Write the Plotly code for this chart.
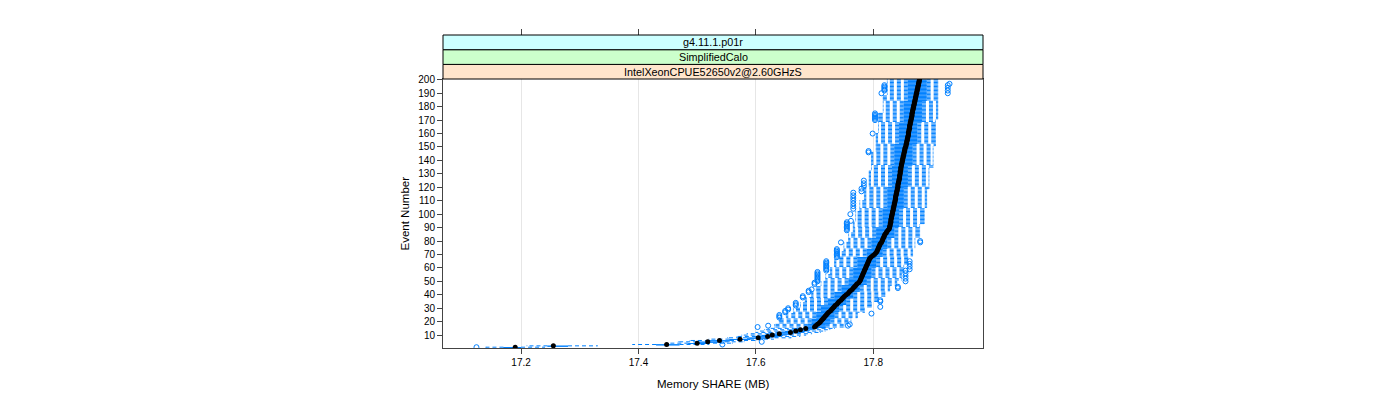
import plotly.graph_objects as go

# ---------------- data ----------------
events = list(range(1, 201))

median = [
    17.190, 17.255, 17.448, 17.500, 17.518, 17.538, 17.573, 17.604, 17.620, 17.628,
    17.640, 17.659, 17.668, 17.676, 17.685, 17.700, 17.702, 17.705, 17.708, 17.710,
    17.712, 17.714, 17.716, 17.718, 17.720, 17.722, 17.724, 17.727, 17.729, 17.731,
    17.733, 17.735, 17.738, 17.740, 17.742, 17.745, 17.747, 17.749, 17.751, 17.754,
    17.757, 17.759, 17.761, 17.764, 17.766, 17.768, 17.770, 17.772, 17.775, 17.777,
    17.778, 17.779, 17.780, 17.781, 17.782, 17.783, 17.784, 17.785, 17.786, 17.787,
    17.788, 17.789, 17.790, 17.791, 17.792, 17.793, 17.794, 17.796, 17.799, 17.802,
    17.804, 17.806, 17.807, 17.808, 17.809, 17.810, 17.811, 17.812, 17.814, 17.815,
    17.816, 17.817, 17.818, 17.819, 17.820, 17.822, 17.823, 17.825, 17.827, 17.828,
    17.828, 17.829, 17.829, 17.830, 17.830, 17.830, 17.831, 17.831, 17.832, 17.832,
    17.833, 17.833, 17.834, 17.834, 17.835, 17.835, 17.836, 17.836, 17.837, 17.837,
    17.838, 17.838, 17.838, 17.839, 17.839, 17.840, 17.840, 17.841, 17.841, 17.842,
    17.842, 17.842, 17.843, 17.843, 17.844, 17.844, 17.845, 17.845, 17.845, 17.846,
    17.846, 17.846, 17.847, 17.847, 17.847, 17.848, 17.848, 17.849, 17.849, 17.850,
    17.850, 17.851, 17.851, 17.852, 17.852, 17.853, 17.853, 17.854, 17.854, 17.855,
    17.856, 17.856, 17.857, 17.857, 17.858, 17.858, 17.859, 17.859, 17.860, 17.860,
    17.860, 17.861, 17.861, 17.862, 17.862, 17.862, 17.863, 17.863, 17.864, 17.864,
    17.865, 17.865, 17.866, 17.866, 17.866, 17.867, 17.867, 17.868, 17.868, 17.869,
    17.869, 17.870, 17.870, 17.871, 17.871, 17.872, 17.872, 17.873, 17.873, 17.874,
    17.874, 17.875, 17.875, 17.876, 17.876, 17.877, 17.877, 17.878, 17.878, 17.879,
]

q1 = [
    17.170, 17.245, 17.430, 17.485, 17.500, 17.520, 17.555, 17.585, 17.600, 17.610,
    17.622, 17.640, 17.650, 17.660, 17.668,
    17.688, 17.688, 17.688,
    17.695, 17.695, 17.695, 17.695,
    17.703, 17.703, 17.703, 17.703, 17.703,
    17.711, 17.711, 17.711, 17.711, 17.711,
    17.723, 17.723, 17.723, 17.723, 17.723,
    17.734, 17.734, 17.734, 17.734, 17.734,
    17.746, 17.746, 17.746, 17.746, 17.746,
    17.758, 17.758, 17.758, 17.758, 17.758,
    17.766, 17.766, 17.766, 17.766, 17.766, 17.766, 17.766, 17.766,
    17.773, 17.773, 17.773, 17.773, 17.773, 17.773, 17.773, 17.773,
    17.789, 17.789, 17.789, 17.789, 17.789, 17.789,
    17.797, 17.797, 17.797, 17.797, 17.797, 17.797, 17.797, 17.797,
    17.805, 17.805, 17.805, 17.805, 17.805, 17.805, 17.805, 17.805,
    17.816, 17.816, 17.816, 17.816, 17.816, 17.816, 17.816, 17.816, 17.816, 17.816,
    17.816, 17.816, 17.816, 17.816,
    17.824, 17.824, 17.824, 17.824, 17.824, 17.824, 17.824, 17.824, 17.824, 17.824,
    17.824, 17.824, 17.824, 17.824, 17.824, 17.824,
    17.832, 17.832, 17.832, 17.832, 17.832, 17.832, 17.832, 17.832, 17.832, 17.832,
    17.832, 17.832, 17.832, 17.832, 17.832, 17.832,
    17.836, 17.836, 17.836, 17.836, 17.836, 17.836, 17.836, 17.836, 17.836, 17.836,
    17.836, 17.836, 17.836, 17.836, 17.836, 17.836,
    17.844, 17.844, 17.844, 17.844, 17.844, 17.844, 17.844, 17.844, 17.844, 17.844,
    17.844, 17.844, 17.844, 17.844, 17.844, 17.844,
    17.852, 17.852, 17.852, 17.852, 17.852, 17.852, 17.852, 17.852, 17.852, 17.852,
    17.852, 17.852, 17.852, 17.852, 17.852, 17.852,
    17.859, 17.859, 17.859, 17.859, 17.859, 17.859, 17.859, 17.859, 17.859, 17.859,
    17.859, 17.859, 17.859, 17.859, 17.859, 17.859,
]

q3 = [
    17.200, 17.280, 17.470, 17.515, 17.535, 17.556, 17.590, 17.620, 17.638, 17.646,
    17.658, 17.676, 17.684, 17.692, 17.700,
    17.719, 17.719, 17.719,
    17.727, 17.727, 17.727, 17.727,
    17.734, 17.734, 17.734, 17.734, 17.734,
    17.742, 17.742, 17.742, 17.742, 17.742,
    17.754, 17.754, 17.754, 17.754, 17.754,
    17.766, 17.766, 17.766, 17.766, 17.766,
    17.777, 17.777, 17.777, 17.777, 17.777,
    17.789, 17.789, 17.789, 17.789, 17.789,
    17.797, 17.797, 17.797, 17.797, 17.797, 17.797, 17.797, 17.797,
    17.805, 17.805, 17.805, 17.805, 17.805, 17.805, 17.805, 17.805,
    17.816, 17.816, 17.816, 17.816, 17.816, 17.816,
    17.824, 17.824, 17.824, 17.824, 17.824, 17.824, 17.824, 17.824,
    17.836, 17.836, 17.836, 17.836, 17.836, 17.836, 17.836, 17.836,
    17.844, 17.844, 17.844, 17.844, 17.844, 17.844, 17.844, 17.844, 17.844, 17.844,
    17.844, 17.844, 17.844, 17.844,
    17.852, 17.852, 17.852, 17.852, 17.852, 17.852, 17.852, 17.852, 17.852, 17.852,
    17.852, 17.852, 17.852, 17.852, 17.852, 17.852,
    17.859, 17.859, 17.859, 17.859, 17.859, 17.859, 17.859, 17.859, 17.859, 17.859,
    17.859, 17.859, 17.859, 17.859, 17.859, 17.859,
    17.867, 17.867, 17.867, 17.867, 17.867, 17.867, 17.867, 17.867, 17.867, 17.867,
    17.867, 17.867, 17.867, 17.867, 17.867, 17.867,
    17.875, 17.875, 17.875, 17.875, 17.875, 17.875, 17.875, 17.875, 17.875, 17.875,
    17.875, 17.875, 17.875, 17.875, 17.875, 17.875,
    17.883, 17.883, 17.883, 17.883, 17.883, 17.883, 17.883, 17.883, 17.883, 17.883,
    17.883, 17.883, 17.883, 17.883, 17.883, 17.883,
    17.891, 17.891, 17.891, 17.891, 17.891, 17.891, 17.891, 17.891, 17.891, 17.891,
    17.891, 17.891, 17.891, 17.891, 17.891, 17.891,
]

lower = [
    17.140, 17.210, 17.390, 17.450, 17.468, 17.488, 17.520, 17.552, 17.568, 17.576,
    17.585, 17.600, 17.608, 17.615, 17.622,
    17.632, 17.632, 17.632,
    17.640, 17.640, 17.640, 17.640,
    17.652, 17.652, 17.652, 17.652,
    17.664, 17.664, 17.664, 17.664,
    17.676, 17.676, 17.676, 17.676,
    17.684, 17.684, 17.684, 17.684,
    17.695, 17.695, 17.695, 17.695,
    17.703, 17.703, 17.703, 17.703,
    17.711, 17.711, 17.711, 17.711,
    17.719, 17.719, 17.719, 17.719, 17.719,
    17.727, 17.727, 17.727, 17.727, 17.727,
    17.734, 17.734, 17.734, 17.734, 17.734, 17.734,
    17.742, 17.742, 17.742, 17.742, 17.742, 17.742,
    17.750, 17.750, 17.750, 17.750, 17.750, 17.750, 17.750,
    17.758, 17.758, 17.758, 17.758, 17.758, 17.758, 17.758,
    17.766, 17.766, 17.766, 17.766, 17.766, 17.766, 17.766, 17.766,
    17.770, 17.770, 17.770, 17.770, 17.770, 17.770, 17.770, 17.770,
    17.777, 17.777, 17.777, 17.777, 17.777, 17.777, 17.777, 17.777,
    17.785, 17.785, 17.785, 17.785, 17.785, 17.785, 17.785, 17.785, 17.785, 17.785,
    17.793, 17.793, 17.793, 17.793, 17.793, 17.793, 17.793, 17.793, 17.793, 17.793,
    17.793, 17.793,
    17.797, 17.797, 17.797, 17.797, 17.797, 17.797, 17.797, 17.797, 17.797, 17.797,
    17.797, 17.797, 17.797, 17.797,
    17.805, 17.805, 17.805, 17.805, 17.805, 17.805, 17.805, 17.805, 17.805, 17.805,
    17.805, 17.805, 17.805, 17.805,
    17.809, 17.809, 17.809, 17.809, 17.809, 17.809, 17.809, 17.809, 17.809, 17.809,
    17.809, 17.809, 17.809, 17.809, 17.809,
    17.817, 17.817, 17.817, 17.817, 17.817, 17.817, 17.817, 17.817, 17.817, 17.817,
    17.817, 17.817, 17.817,
    17.824, 17.824, 17.824, 17.824, 17.824, 17.824, 17.824, 17.824, 17.824, 17.824,
    17.824, 17.824,
]

upper = [
    17.240, 17.330, 17.520, 17.560, 17.580, 17.600, 17.630, 17.660, 17.675, 17.685,
    17.695, 17.710, 17.718, 17.726, 17.734,
    17.752, 17.752, 17.752,
    17.762, 17.762, 17.762, 17.762,
    17.773, 17.773, 17.773, 17.773,
    17.785, 17.785, 17.785, 17.785,
    17.797, 17.797, 17.797, 17.797,
    17.809, 17.809, 17.809, 17.809,
    17.820, 17.820, 17.820, 17.820,
    17.828, 17.828, 17.828, 17.828,
    17.840, 17.840, 17.840, 17.840,
    17.848, 17.848, 17.848, 17.848, 17.848, 17.848,
    17.852, 17.852, 17.852, 17.852, 17.852, 17.852,
    17.859, 17.859, 17.859, 17.859, 17.859, 17.859,
    17.867, 17.867, 17.867, 17.867, 17.867, 17.867,
    17.871, 17.871, 17.871, 17.871, 17.871, 17.871, 17.871, 17.871,
    17.879, 17.879, 17.879, 17.879, 17.879, 17.879, 17.879, 17.879, 17.879, 17.879,
    17.887, 17.887, 17.887, 17.887, 17.887, 17.887, 17.887, 17.887, 17.887, 17.887,
    17.887, 17.887,
    17.891, 17.891, 17.891, 17.891, 17.891, 17.891, 17.891, 17.891, 17.891, 17.891,
    17.891, 17.891, 17.891, 17.891,
    17.895, 17.895, 17.895, 17.895, 17.895, 17.895, 17.895, 17.895, 17.895, 17.895,
    17.895, 17.895, 17.895, 17.895, 17.895, 17.895,
    17.902, 17.902, 17.902, 17.902, 17.902, 17.902, 17.902, 17.902, 17.902, 17.902,
    17.902, 17.902, 17.902, 17.902, 17.902, 17.902,
    17.906, 17.906, 17.906, 17.906, 17.906, 17.906, 17.906, 17.906, 17.906, 17.906,
    17.906, 17.906, 17.906, 17.906, 17.906, 17.906, 17.906, 17.906, 17.906, 17.906,
    17.910, 17.910, 17.910, 17.910, 17.910, 17.910, 17.910, 17.910, 17.910, 17.910,
    17.910, 17.910, 17.910, 17.910, 17.910, 17.910, 17.910, 17.910, 17.910, 17.910,
    17.910, 17.910, 17.910, 17.910, 17.910, 17.910, 17.910, 17.910, 17.910, 17.910,
]

outlier_event = [
    1, 3, 5, 16, 17, 17, 18, 23, 24, 25, 26, 27, 28, 29, 30, 31, 32, 33, 34, 35, 36,
    38, 39, 42, 43, 44, 45, 46, 48, 49,
    50, 51, 52, 53, 54, 55, 56, 57, 50, 52, 54, 56, 58,
    58, 59, 60, 61, 62, 63, 64, 65, 59, 61, 63, 65,
    68, 69, 70, 71, 72, 73, 74, 79, 79, 80,
    88, 89, 90, 91, 92, 93, 94, 95, 100,
    104, 106, 108, 110, 112, 114, 116, 117, 119, 121, 123, 125,
    146, 147, 160, 170, 171, 172, 173, 174, 175,
    190, 192, 193, 194, 195, 196, 190, 192, 194, 196, 197,
]
outlier_value = [
    17.124, 17.543, 17.610, 17.603, 17.621, 17.757, 17.760, 17.640, 17.640, 17.640, 17.797, 17.650, 17.650, 17.655, 17.655, 17.812, 17.668, 17.668, 17.668, 17.812, 17.812,
    17.680, 17.680, 17.690, 17.690, 17.695, 17.842, 17.842, 17.700, 17.700,
    17.705, 17.705, 17.705, 17.705, 17.705, 17.705, 17.705, 17.705, 17.855, 17.855, 17.855, 17.855, 17.855,
    17.720, 17.720, 17.720, 17.720, 17.720, 17.720, 17.720, 17.720, 17.862, 17.862, 17.862, 17.862,
    17.738, 17.738, 17.738, 17.738, 17.738, 17.738, 17.738, 17.745, 17.880, 17.880,
    17.755, 17.755, 17.755, 17.755, 17.755, 17.755, 17.755, 17.762, 17.761,
    17.766, 17.766, 17.766, 17.766, 17.766, 17.766, 17.766, 17.780, 17.780, 17.784, 17.784, 17.784,
    17.792, 17.792, 17.799, 17.803, 17.803, 17.803, 17.803, 17.803, 17.803,
    17.814, 17.819, 17.819, 17.819, 17.819, 17.819, 17.927, 17.927, 17.927, 17.927, 17.930,
]

x_ticks = [17.2, 17.4, 17.6, 17.8]
y_ticks = [10, 20, 30, 40, 50, 60, 70, 80, 90, 100, 110, 120, 130, 140, 150,
           160, 170, 180, 190, 200]
strip_labels = ["IntelXeonCPUE52650v2@2.60GHzS", "SimplifiedCalo", "g4.11.1.p01r"]
strip_colors = ["#ffe5cc", "#ccffcc", "#ccffff"]

assert all(len(a) == len(events) for a in (median, q1, q3, lower, upper)), \
    [len(a) for a in (median, q1, q3, lower, upper)]
assert len(outlier_event) == len(outlier_value)

# ---------------- styling ----------------
BLUE = "#0080ff"
FONT = "Liberation Sans, Arial, Helvetica, sans-serif"
HALF = 0.25  # half box height (in category units)

# page body adds 8px offset; figure coordinates = screen - 8
OFF = 8
W, H = 1400, 400
panel_left, panel_right = 443 - OFF, 983 - OFF
panel_top, panel_bottom = 79 - OFF, 348 - OFF
strip_top = 35 - OFF
M_L, M_R, M_T, M_B = panel_left, W - panel_right, strip_top, H - panel_bottom
plot_h = H - M_T - M_B
plot_w = W - M_L - M_R
dom_top = (panel_bottom - panel_top) / plot_h
strip_px = [79 - OFF, 64.4 - OFF, 49.7 - OFF, 35 - OFF]
strip_y = [(panel_bottom - p) / plot_h for p in strip_px]

# whiskers (dashed), drawn from the box edge outward
wx, wy = [], []
for e, lo, a, b, hi in zip(events, lower, q1, q3, upper):
    wx += [a, lo, None, b, hi, None]
    wy += [e, e, None, e, e, None]

# boxes (rectangles)
bx, by = [], []
for e, a, b in zip(events, q1, q3):
    bx += [a, b, b, a, a, None]
    by += [e - HALF, e - HALF, e + HALF, e + HALF, e - HALF, None]

# whisker end caps
cx, cy = [], []
for e, lo, hi in zip(events, lower, upper):
    cx += [lo, lo, None, hi, hi, None]
    cy += [e - HALF, e + HALF, None, e - HALF, e + HALF, None]

fig = go.Figure()
fig.add_trace(go.Scatter(x=wx, y=wy, mode="lines", hoverinfo="skip",
                         line=dict(color=BLUE, width=1, dash="4px,3px")))
fig.add_trace(go.Scatter(x=bx, y=by, mode="lines", hoverinfo="skip",
                         line=dict(color=BLUE, width=1)))
fig.add_trace(go.Scatter(x=cx, y=cy, mode="lines", hoverinfo="skip",
                         line=dict(color=BLUE, width=1)))
fig.add_trace(go.Scatter(x=outlier_value, y=outlier_event, mode="markers",
                         marker=dict(symbol="circle-open", size=5, color=BLUE,
                                     line=dict(width=1, color=BLUE))))
fig.add_trace(go.Scatter(x=median, y=events, mode="markers",
                         marker=dict(symbol="circle", size=5, color="black")))
fig.add_trace(go.Scatter(x=[None], y=[None], xaxis="x2", showlegend=False))

xr = [17.067, 17.987]
fig.update_layout(
    width=W, height=H,
    margin=dict(l=M_L, r=M_R, t=M_T, b=M_B),
    paper_bgcolor="white", plot_bgcolor="white",
    showlegend=False,
    font=dict(family=FONT, color="black"),
    xaxis=dict(range=xr, tickvals=x_ticks, ticktext=[f"{v:.1f}" for v in x_ticks],
               ticks="outside", ticklen=5, tickcolor="#444", showline=True,
               linecolor="#444", linewidth=1, mirror=True, showgrid=True,
               gridcolor="#e6e6e6", zeroline=False, tickfont=dict(size=10)),
    xaxis2=dict(range=xr, overlaying="x", side="top", anchor="free", position=1,
                tickvals=x_ticks, ticks="outside", ticklen=6, tickcolor="#444",
                showticklabels=False, showgrid=False, showline=False, zeroline=False),
    yaxis=dict(domain=[0, dom_top], range=[0.4, 200.6], tickvals=y_ticks,
               ticktext=[str(v) for v in y_ticks], ticks="outside", ticklen=5,
               tickcolor="#444", showline=True, linecolor="#444", linewidth=1,
               mirror=True, showgrid=False, zeroline=False, tickfont=dict(size=10)),
)

shapes = []
annotations = []
for i, (lab, col) in enumerate(zip(strip_labels, strip_colors)):
    y0, y1 = strip_y[i], strip_y[i + 1]
    shapes.append(dict(type="rect", xref="paper", yref="paper", x0=0, x1=1,
                       y0=y0, y1=y1, fillcolor=col, line=dict(color="black", width=1),
                       layer="above"))
    annotations.append(dict(text=lab, xref="paper", yref="paper", x=0.5,
                            y=(y0 + y1) / 2, showarrow=False, xanchor="center",
                            yanchor="middle", font=dict(size=10.8, color="black")))

annotations.append(dict(text="Memory SHARE (MB)", xref="paper", yref="paper",
                        x=0.5, y=(panel_bottom - (384 - OFF)) / plot_h, showarrow=False,
                        xanchor="center", yanchor="middle", font=dict(size=11.5)))
annotations.append(dict(text="Event Number", xref="paper", yref="paper",
                        x=((404 - OFF) - panel_left) / plot_w, y=dom_top / 2,
                        showarrow=False, textangle=-90, xanchor="center",
                        yanchor="middle", font=dict(size=11.5)))
fig.update_layout(shapes=shapes, annotations=annotations)

fig.write_html("out.html")
